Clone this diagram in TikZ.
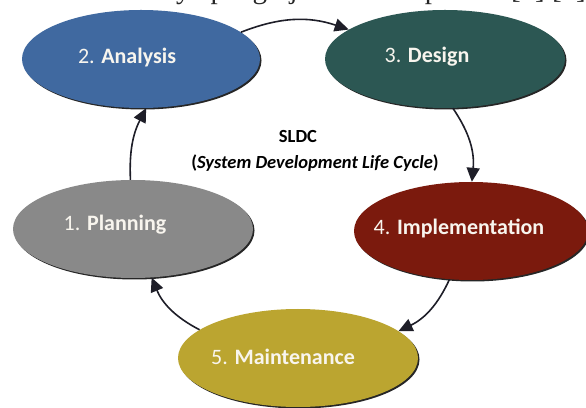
\documentclass[tikz,border=0pt]{standalone}
\usepackage{fontspec}
\setmainfont{Carlito}
\newfontfamily\serifdoc{Liberation Serif}
\usetikzlibrary{shapes.geometric,arrows.meta}
\definecolor{anblue}{HTML}{4069A0}
\definecolor{degreen}{HTML}{2C5753}
\definecolor{imred}{HTML}{7B1A0D}
\definecolor{plgray}{HTML}{898989}
\definecolor{mayellow}{HTML}{BBA530}
\definecolor{arrowc}{HTML}{1E1E28}
\definecolor{lbltext}{HTML}{F8F5EE}
\begin{document}
\begin{tikzpicture}[x=1pt,y=1pt,
  phase/.style={ellipse, minimum width=240pt, minimum height=98pt, inner sep=0pt},
  shad/.style={ellipse, fill=black!85, minimum width=240pt, minimum height=98pt, inner sep=0pt},
  lbl/.style={text=lbltext, font=\fontsize{22}{26}\selectfont, inner sep=0pt},
  flow/.style={-{Triangle[length=14pt,width=13pt]}, line width=1.6pt, draw=arrowc, bend left=20}
]
\useasboundingbox (0,0) rectangle (586,407);
\fill[white] (0,0) rectangle (586,407);
\begin{scope}
\clip (0,0) rectangle (586,407);
\node[anchor=base east, text=black!85, font=\serifdoc\fontsize{29}{32}\selectfont, inner sep=0pt] (top) at (586,408) {dan analya pengerjaan secara paralel [5] [6]};
% shadows
\node[shad, minimum width=238pt] (ansh) at (142.5,346.5) {};
\node[shad] (desh) at (446.5,346.5) {};
\node[shad, minimum width=234pt] (imsh) at (472.5,174.5) {};
\node[shad] (plsh) at (134.5,176.5) {};
\node[shad] (mash) at (299.5,47.5) {};
% ellipses
\node[phase, fill=anblue, minimum width=238pt] (an) at (141,348) {};
\node[phase, fill=degreen] (de) at (445,348) {};
\node[phase, fill=imred, minimum width=234pt] (im) at (471,176) {};
\node[phase, fill=plgray] (pl) at (133,178) {};
\node[phase, fill=mayellow] (ma) at (298,49) {};
% labels
\node[lbl] (anT) at ([xshift=-14pt,yshift=1pt]an.center) {2. \textbf{Analysis}};
\node[lbl] (deT) at ([xshift=-18pt,yshift=2pt]de.center) {3. \textbf{Design}};
\node[lbl] (imT) at ([xshift=-12pt,yshift=3pt]im.center) {4. \textbf{Implementation}};
\node[lbl] (plT) at ([xshift=-18pt,yshift=4pt]pl.center) {1. \textbf{Planning}};
\node[lbl] (maT) at ([xshift=-15pt,yshift=1pt]ma.center) {5. \textbf{Maintenance}};
% connectors
\draw[flow] (an.15) to (de.163);
\draw[flow] (de.279) to (im.89);
\draw[flow] (im.246) to (ma.15);
\draw[flow] (ma.164) to (pl.291);
\draw[flow, bend left=15] (pl.93) to (an.276);
\end{scope}
% centre title
\node[font=\bfseries\fontsize{18.5}{22}\selectfont, inner sep=0pt] (t1) at (298,270) {SLDC};
\node[font=\bfseries\fontsize{18.5}{22}\selectfont, inner sep=0pt] (t2) at (315,244) {(\textit{System Development Life Cycle})};
\end{tikzpicture}
\end{document}
